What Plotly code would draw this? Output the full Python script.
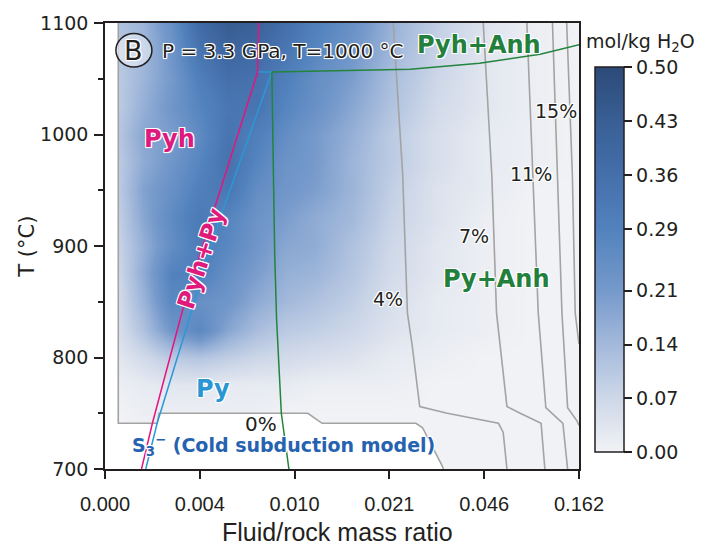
import plotly.graph_objects as go

# ---------------- data ----------------
x_tick_labels = ["0.000", "0.004", "0.010", "0.021", "0.046", "0.162"]
x_tick_pos = [0, 1, 2, 3, 4, 5]

grid_x = [0.15, 0.4, 0.7, 1.0, 1.3, 1.6, 1.9, 2.2, 2.6, 3.0, 3.5, 4.0, 4.5, 5.0]
grid_T = [700, 725, 750, 775, 800, 825, 850, 875, 900, 925, 950, 975, 1000, 1025, 1050, 1075, 1100]
s3_conc = [
    [0.00, 0.00, 0.00, 0.00, 0.00, 0.00, 0.00, 0.00, 0.00, 0.00, 0.00, 0.00, 0.00, 0.00],
    [0.00, 0.00, 0.00, 0.00, 0.00, 0.00, 0.00, 0.00, 0.00, 0.00, 0.00, 0.00, 0.00, 0.00],
    [0.00, 0.01, 0.01, 0.01, 0.01, 0.01, 0.00, 0.00, 0.00, 0.00, 0.00, 0.00, 0.00, 0.00],
    [0.01, 0.02, 0.03, 0.03, 0.02, 0.02, 0.02, 0.01, 0.01, 0.01, 0.00, 0.00, 0.00, 0.00],
    [0.03, 0.06, 0.10, 0.11, 0.09, 0.07, 0.06, 0.05, 0.04, 0.02, 0.01, 0.00, 0.00, 0.00],
    [0.05, 0.12, 0.22, 0.27, 0.18, 0.13, 0.10, 0.09, 0.07, 0.04, 0.02, 0.01, 0.00, 0.00],
    [0.06, 0.15, 0.27, 0.24, 0.22, 0.17, 0.14, 0.12, 0.09, 0.05, 0.02, 0.01, 0.00, 0.00],
    [0.07, 0.17, 0.29, 0.30, 0.24, 0.20, 0.16, 0.15, 0.11, 0.06, 0.03, 0.01, 0.00, 0.00],
    [0.08, 0.16, 0.25, 0.31, 0.27, 0.22, 0.18, 0.17, 0.12, 0.07, 0.03, 0.01, 0.00, 0.00],
    [0.09, 0.18, 0.26, 0.32, 0.28, 0.23, 0.20, 0.17, 0.14, 0.08, 0.04, 0.01, 0.00, 0.00],
    [0.10, 0.19, 0.24, 0.30, 0.33, 0.25, 0.22, 0.20, 0.15, 0.09, 0.04, 0.02, 0.00, 0.00],
    [0.10, 0.17, 0.22, 0.28, 0.35, 0.28, 0.23, 0.21, 0.15, 0.10, 0.05, 0.02, 0.01, 0.00],
    [0.11, 0.18, 0.20, 0.26, 0.34, 0.30, 0.25, 0.21, 0.16, 0.10, 0.05, 0.02, 0.01, 0.00],
    [0.10, 0.16, 0.22, 0.28, 0.33, 0.34, 0.28, 0.24, 0.18, 0.12, 0.06, 0.03, 0.01, 0.00],
    [0.10, 0.15, 0.21, 0.30, 0.36, 0.35, 0.30, 0.25, 0.20, 0.13, 0.07, 0.03, 0.01, 0.00],
    [0.11, 0.14, 0.22, 0.34, 0.40, 0.38, 0.33, 0.28, 0.22, 0.15, 0.08, 0.03, 0.01, 0.00],
    [0.12, 0.15, 0.24, 0.38, 0.44, 0.42, 0.36, 0.30, 0.24, 0.16, 0.09, 0.04, 0.01, 0.00],
]

cbar_ticks = [0.00, 0.07, 0.14, 0.21, 0.29, 0.36, 0.43, 0.50]
cbar_labels = ["0.00", "0.07", "0.14", "0.21", "0.29", "0.36", "0.43", "0.50"]

# 0 % contour (limit of the S3- field)
zero_x = [0.14, 0.14, 0.55, 0.57, 2.14, 2.29, 3.28, 3.35, 3.55, 3.57]
zero_T = [1100, 741, 741, 750, 750, 741, 741, 737, 704, 700]
# other iso-percent contours
c4_x = [3.04, 3.14, 3.19, 3.24, 3.32, 3.61, 4.15, 4.20, 4.24]
c4_T = [1100, 964, 840, 811, 756, 750, 741, 733, 700]
c7_x = [3.99, 4.08, 4.13, 4.24, 4.38, 4.60, 4.64]
c7_T = [1100, 964, 840, 756, 750, 741, 700]
c11_x = [4.45, 4.51, 4.57, 4.65, 4.83, 4.88]
c11_T = [1100, 964, 840, 755, 741, 700]
c15_x = [4.72, 4.77, 4.82, 4.88, 4.98, 5.00]
c15_T = [1100, 964, 840, 755, 743, 739]
c20_x = [4.87, 4.93, 4.96, 5.00]
c20_T = [1100, 964, 840, 812]

# phase boundaries
pyh_x = [1.62, 1.61, 1.16, 0.82, 0.50, 0.385]
pyh_T = [1100, 1056, 935, 843, 741, 700]
py_x = [1.61, 1.76, 1.23, 0.55, 0.43]
py_T = [1056, 1056, 929, 741, 700]
anh_v_x = [1.76, 1.79, 1.81, 1.86, 1.94]
anh_v_T = [1056, 893, 834, 750, 700]
anh_h_x = [1.76, 2.90, 3.22, 3.95, 4.59, 5.02]
anh_h_T = [1056, 1058, 1058.5, 1064, 1072, 1081]

# ---------------- figure ----------------
colorscale = [
    [0.00, "#f1f2f5"], [0.14, "#cdd7e8"], [0.28, "#a3b9db"], [0.42, "#7599cb"],
    [0.58, "#5282bd"], [0.72, "#446fab"], [0.86, "#395f95"], [1.00, "#2c4a78"],
]

INK = "#231f20"
F_WIDE = "DejaVu Sans, Verdana, sans-serif"
F_ARIAL = "Liberation Sans, Arial, sans-serif"

fig = go.Figure()
fig.add_trace(go.Heatmap(
    x=grid_x, y=grid_T, z=s3_conc, zmin=0, zmax=0.5, zsmooth="best",
    colorscale=colorscale,
    colorbar=dict(
        x=1.034, xanchor="left", xpad=0, y=0.469, yanchor="middle", ypad=0,
        len=0.863, lenmode="fraction", thickness=29, thicknessmode="pixels",
        outlinecolor=INK, outlinewidth=1.5,
        tickmode="array", tickvals=cbar_ticks, ticktext=cbar_labels,
        ticks="outside", ticklen=8, tickwidth=1.5, tickcolor=INK,
        tickfont=dict(family=F_WIDE, size=19, color=INK),
    ),
))

# white area outside the S3- field
fig.add_trace(go.Scatter(
    x=[0] + zero_x + [0], y=[1100] + zero_T + [700], mode="lines",
    fill="toself", fillcolor="white", line=dict(width=0), hoverinfo="skip",
))

gray = dict(color="#a3a3a3", width=1.6)
for cx, cy in [(zero_x, zero_T), (c4_x, c4_T), (c7_x, c7_T), (c11_x, c11_T),
               (c15_x, c15_T), (c20_x, c20_T)]:
    fig.add_trace(go.Scatter(x=cx, y=cy, mode="lines", line=gray, hoverinfo="skip"))

fig.add_trace(go.Scatter(x=py_x, y=py_T, mode="lines", line=dict(color="#2b98d6", width=1.5)))
fig.add_trace(go.Scatter(x=pyh_x, y=pyh_T, mode="lines", line=dict(color="#e5147e", width=1.5)))
fig.add_trace(go.Scatter(x=anh_v_x, y=anh_v_T, mode="lines", line=dict(color="#23843c", width=1.5)))
fig.add_trace(go.Scatter(x=anh_h_x, y=anh_h_T, mode="lines", line=dict(color="#23843c", width=1.5)))

halo = "1px 1px 0px white, -1px -1px 0px white, 1px -1px 0px white, -1px 1px 0px white, 0px 1px 1px white, 1px 0px 1px white"


def label(text, x, y, color, size, bold=True, angle=0, xanchor="center", family=F_WIDE):
    fig.add_annotation(
        x=x, y=y, xref="x", yref="y",
        text=f"<b>{text}</b>" if bold else text, showarrow=False,
        textangle=angle, xanchor=xanchor, yanchor="middle",
        font=dict(family=family, size=size, color=color, shadow=halo),
    )


label("Pyh+Anh", 3.94, 1080.6, "#23803c", 24)
label("P = 3.3 GPa, T=1000 °C", 0.585, 1075, INK, 20, bold=False, xanchor="left")
label("B", 0.305, 1075.3, INK, 27, bold=False)
label("Pyh", 0.68, 996, "#e0197d", 24)
label("Pyh+Py", 1.02, 889, "#e0197d", 24, angle=-72)
label("Py", 1.14, 771.5, "#2a96d4", 24)
label("Py+Anh", 4.13, 870.4, "#23803c", 24)
label("S<sub>3</sub><sup>−</sup> (Cold subduction model)", 1.88, 721, "#2563b0", 19)
label("0%", 1.65, 740.6, INK, 20, bold=False)
label("4%", 2.98, 852.8, INK, 19, bold=False)
label("7%", 3.89, 909.3, INK, 19, bold=False)
label("11%", 4.49, 964.9, INK, 19, bold=False)
label("15%", 4.76, 1021.4, INK, 19, bold=False)

fig.add_shape(type="circle", xref="x", yref="y", x0=0.115, x1=0.495, y0=1060.5, y1=1090.5,
              line=dict(color=INK, width=1.5), fillcolor="rgba(255,255,255,0.45)")

# axis titles and colorbar title
fig.add_annotation(x=0.49, y=-0.142, xref="paper", yref="paper", showarrow=False,
                   text="Fluid/rock mass ratio", xanchor="center", yanchor="middle",
                   font=dict(family=F_ARIAL, size=25, color=INK))
fig.add_annotation(x=-0.164, y=0.499, xref="paper", yref="paper", showarrow=False,
                   text="T (°C)", textangle=-90, xanchor="center", yanchor="middle",
                   font=dict(family=F_WIDE, size=21, color=INK))
fig.add_annotation(x=1.13, y=0.956, xref="paper", yref="paper", showarrow=False,
                   text="mol/kg H<sub>2</sub>O", xanchor="center", yanchor="middle",
                   font=dict(family=F_WIDE, size=19, color=INK))

fig.update_layout(
    width=718, height=548, showlegend=False,
    margin=dict(l=105, r=139, t=16, b=79),
    paper_bgcolor="white", plot_bgcolor="white",
    xaxis=dict(range=[0, 5], tickmode="array", tickvals=x_tick_pos, ticktext=x_tick_labels,
               showgrid=False, zeroline=False, showline=True, linecolor=INK, linewidth=1.5,
               mirror=True, ticks="outside", ticklen=8, tickwidth=1.5, tickcolor=INK,
               ticklabelstandoff=8,
               tickfont=dict(family=F_ARIAL, size=20, color=INK)),
    yaxis=dict(range=[700, 1100], tickmode="array", tickvals=[700, 800, 900, 1000, 1100],
               showgrid=False, zeroline=False, showline=True, linecolor=INK, linewidth=1.5,
               mirror=True, ticks="outside", ticklen=9, tickwidth=1.5, tickcolor=INK,
               ticklabelstandoff=2,
               minor=dict(tickvals=[750, 850, 950, 1050], ticks="outside", ticklen=5,
                          tickwidth=1.5, tickcolor=INK),
               tickfont=dict(family=F_WIDE, size=19, color=INK)),
)

fig.write_html("out.html")
